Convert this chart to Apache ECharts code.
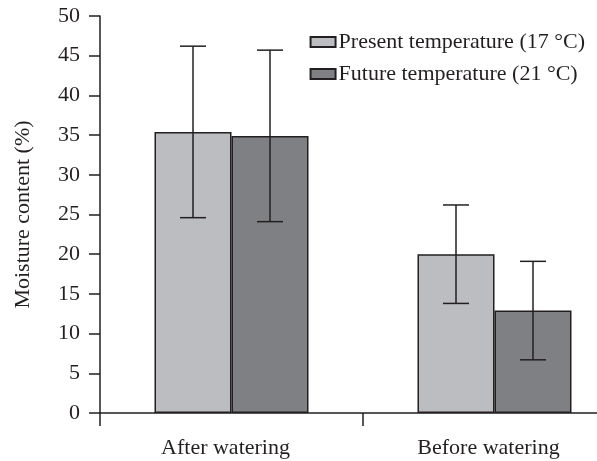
<!DOCTYPE html>
<html lang="en">
<head>
    <meta charset="UTF-8">
    <script src="https://cdn.jsdelivr.net/npm/echarts@6/dist/echarts.min.js"></script>
    <title>Moisture content</title>
    <style>
        html, body { margin: 0; padding: 0; background: #fff; overflow: hidden; }
        /* chart is wider than the window: the x axis runs off the right edge */
        #main { width: 626px; height: 461px; }
    </style>
</head>
<body>
    <div id="main"></div>
    <script>
        var categories = ['After watering', 'Before watering'];
        var seriesNames = ['Present temperature (17 \u00b0C)', 'Future temperature (21 \u00b0C)'];
        var presentMean = [35.4, 20.0];
        var presentErr = [10.8, 6.2];
        var futureMean = [34.9, 12.9];
        var futureErr = [10.8, 6.2];

        var ink = '#231f20';
        var font = 'Liberation Serif';
        var barW = 77;

        function errData(mean, err) {
            var out = [];
            for (var i = 0; i < mean.length; i++) {
                out.push([i, mean[i] - err[i], mean[i] + err[i]]);
            }
            return out;
        }

        // draws whisker + caps, shifted onto its bar
        function errRender(shift) {
            return function (params, api) {
                var lo = api.coord([api.value(0), api.value(1)]);
                var hi = api.coord([api.value(0), api.value(2)]);
                var x = lo[0] + shift;
                var cap = 13;
                var st = { stroke: ink, lineWidth: 1.5 };
                return {
                    type: 'group',
                    children: [
                        { type: 'line', shape: { x1: x, y1: lo[1], x2: x, y2: hi[1] }, style: st },
                        { type: 'line', shape: { x1: x - cap, y1: hi[1], x2: x + cap, y2: hi[1] }, style: st },
                        { type: 'line', shape: { x1: x - cap, y1: lo[1], x2: x + cap, y2: lo[1] }, style: st }
                    ]
                };
            };
        }

        var chart = echarts.init(document.getElementById('main'));
        var option = {
            animation: false,
            textStyle: { fontFamily: font, color: ink },
            legend: {
                data: seriesNames,
                orient: 'vertical',
                right: 41,
                top: 31,
                padding: 0,
                itemGap: 10,
                itemWidth: 25,
                itemHeight: 10,
                icon: 'rect',
                textStyle: { fontFamily: font, fontSize: 22, color: ink, padding: [0, 0, 0, -2] }
            },
            grid: { left: 100, top: 16, bottom: 48, right: 0, outerBoundsMode: 'none' },
            xAxis: {
                type: 'category',
                data: categories,
                axisLine: { lineStyle: { color: ink, width: 1.5 } },
                axisTick: { show: true, length: 13, lineStyle: { color: ink, width: 1.5 } },
                axisLabel: { fontFamily: font, fontSize: 22, color: ink, margin: 24, padding: [0, 12, 0, 0] }
            },
            yAxis: {
                type: 'value',
                min: 0,
                max: 50,
                interval: 5,
                name: 'Moisture content (%)',
                nameLocation: 'middle',
                nameGap: 66,
                nameTextStyle: { fontFamily: font, fontSize: 22, color: ink },
                axisLine: { show: true, lineStyle: { color: ink, width: 1.5 } },
                axisTick: { show: true, length: 11, lineStyle: { color: ink, width: 1.5 } },
                axisLabel: { fontFamily: font, fontSize: 22, color: ink, margin: 20 },
                splitLine: { show: false }
            },
            series: [
                {
                    name: seriesNames[0],
                    type: 'bar',
                    barWidth: barW,
                    barGap: 0,
                    itemStyle: { color: '#bcbdc1', borderColor: ink, borderWidth: 1.5 },
                    data: presentMean
                },
                {
                    name: seriesNames[1],
                    type: 'bar',
                    barWidth: barW,
                    barGap: 0,
                    itemStyle: { color: '#7f8083', borderColor: ink, borderWidth: 1.5 },
                    data: futureMean
                },
                {
                    type: 'custom',
                    renderItem: errRender(-barW / 2),
                    encode: { x: 0, y: [1, 2] },
                    data: errData(presentMean, presentErr),
                    z: 10
                },
                {
                    type: 'custom',
                    renderItem: errRender(barW / 2),
                    encode: { x: 0, y: [1, 2] },
                    data: errData(futureMean, futureErr),
                    z: 10
                }
            ]
        };
        chart.setOption(option);
    </script>
</body>
</html>
